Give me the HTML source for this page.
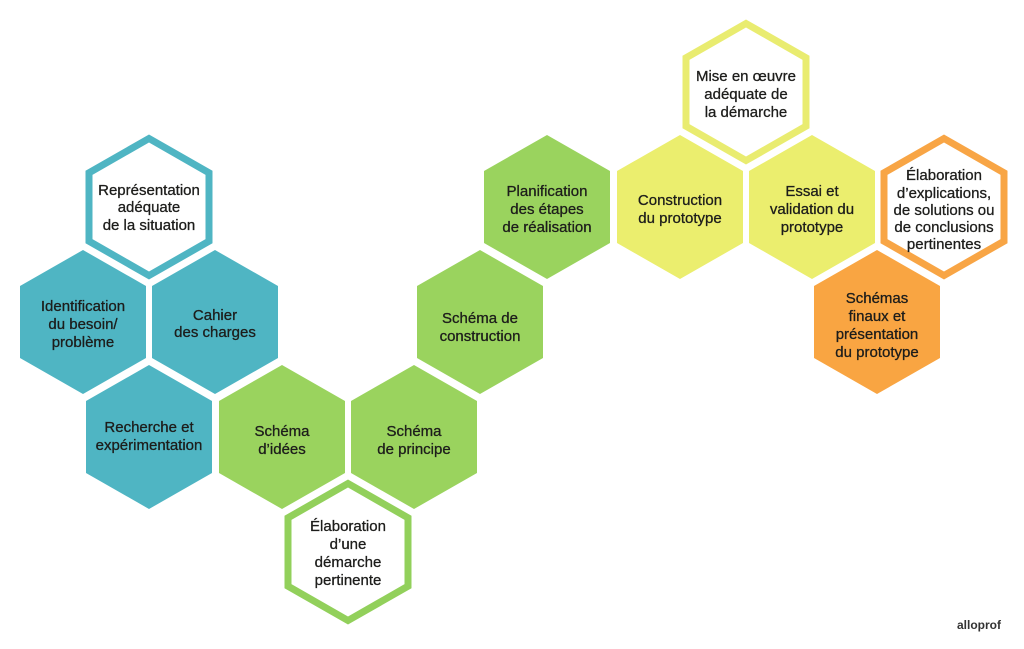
<!DOCTYPE html>
<html><head><meta charset="utf-8"><style>
html,body{margin:0;padding:0;background:#fff;}
svg{display:block;}
text{font-family:"Liberation Sans","DejaVu Sans",sans-serif;font-size:15px;fill:#1d1d1b;stroke:#1d1d1b;stroke-width:0.3;text-anchor:middle;}
</style></head><body>
<svg width="1024" height="649" viewBox="0 0 1024 649" xmlns="http://www.w3.org/2000/svg">
<defs>
<polygon id="hf" points="0,-72 63,-36 63,36 0,72 -63,36 -63,-36"/>
<polygon id="ho" points="0,-68.5 60,-34.2 60,34.2 0,68.5 -60,34.2 -60,-34.2"/>
</defs>
<use href="#ho" x="149" y="207" fill="#fff" stroke="#4fb5c3" stroke-width="7"/>
<use href="#hf" x="83" y="322" fill="#4fb5c3"/>
<use href="#hf" x="215" y="322" fill="#4fb5c3"/>
<use href="#hf" x="149" y="437" fill="#4fb5c3"/>
<use href="#hf" x="282" y="437" fill="#9ad35e"/>
<use href="#ho" x="348" y="552" fill="#fff" stroke="#92d05b" stroke-width="7"/>
<use href="#hf" x="414" y="437" fill="#9ad35e"/>
<use href="#hf" x="480" y="322" fill="#9ad35e"/>
<use href="#hf" x="547" y="207" fill="#9ad35e"/>
<use href="#hf" x="680" y="207" fill="#ebee6e"/>
<use href="#ho" x="746" y="92" fill="#fff" stroke="#e9ec70" stroke-width="7"/>
<use href="#hf" x="812" y="207" fill="#ebee6e"/>
<use href="#ho" x="944" y="207" fill="#fff" stroke="#f8a545" stroke-width="7"/>
<use href="#hf" x="877" y="322" fill="#f9a542"/>

<text x="149" y="195">Représentation</text><text x="149" y="212">adéquate</text><text x="149" y="230">de la situation</text>
<text x="83" y="311">Identification</text><text x="83" y="329">du besoin/</text><text x="83" y="347">problème</text>
<text x="215" y="320">Cahier</text><text x="215" y="337">des charges</text>
<text x="149" y="432">Recherche et</text><text x="149" y="450">expérimentation</text>
<text x="282" y="436">Schéma</text><text x="282" y="454">d’idées</text>
<text x="348" y="531">Élaboration</text><text x="348" y="549">d’une</text><text x="348" y="567">démarche</text><text x="348" y="585">pertinente</text>
<text x="414" y="436">Schéma</text><text x="414" y="454">de principe</text>
<text x="480" y="323">Schéma de</text><text x="480" y="341">construction</text>
<text x="547" y="196">Planification</text><text x="547" y="214">des étapes</text><text x="547" y="232">de réalisation</text>
<text x="680" y="205">Construction</text><text x="680" y="223">du prototype</text>
<text x="746" y="81">Mise en œuvre</text><text x="746" y="99">adéquate de</text><text x="746" y="117">la démarche</text>
<text x="812" y="196">Essai et</text><text x="812" y="214">validation du</text><text x="812" y="232">prototype</text>
<text x="944" y="180">Élaboration</text><text x="944" y="198">d’explications,</text><text x="944" y="215">de solutions ou</text><text x="944" y="232">de conclusions</text><text x="944" y="249">pertinentes</text>
<text x="877" y="303">Schémas</text><text x="877" y="321">finaux et</text><text x="877" y="339">présentation</text><text x="877" y="357">du prototype</text>
<text x="979" y="629" style="font-size:12px;font-weight:bold;fill:#333;stroke:none">alloprof</text>
</svg>
</body></html>
